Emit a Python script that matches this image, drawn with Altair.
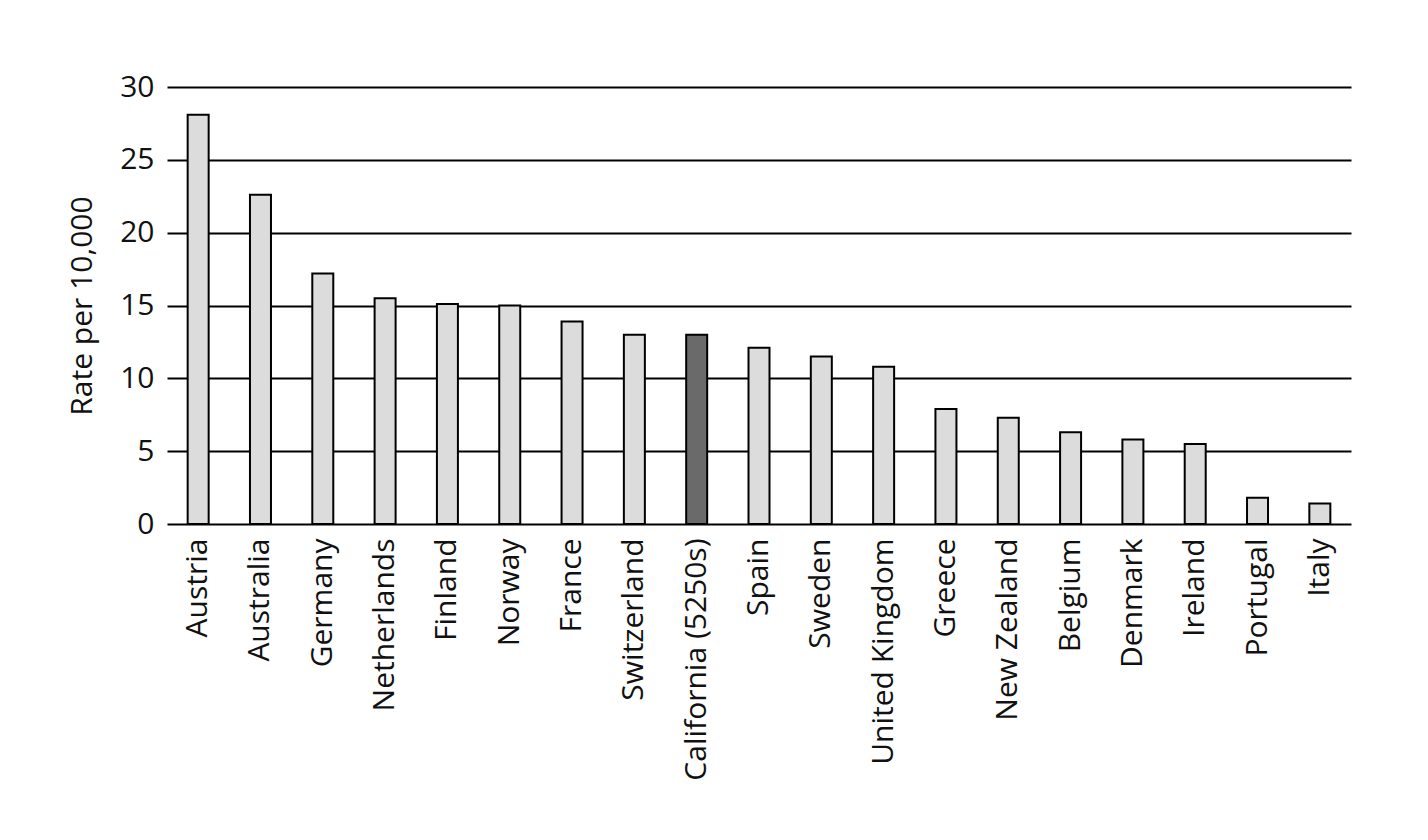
import altair as alt
import pandas as pd

countries = ["Austria", "Australia", "Germany", "Netherlands", "Finland", "Norway",
             "France", "Switzerland", "California (5250s)", "Spain", "Sweden",
             "United Kingdom", "Greece", "New Zealand", "Belgium", "Denmark",
             "Ireland", "Portugal", "Italy"]
rates = [28.1, 22.6, 17.2, 15.5, 15.1, 15.0, 13.9, 13.0, 13.0, 12.1, 11.5,
         10.8, 7.9, 7.3, 6.3, 5.8, 5.5, 1.8, 1.4]
highlight = ["California (5250s)"]

df = pd.DataFrame({
    "country": countries,
    "rate": rates,
    "group": ["hl" if c in highlight else "base" for c in countries],
})

FONT = "Open Sans"
FS = 30

chart = alt.Chart(df).mark_bar(size=21, stroke="black", strokeWidth=2).encode(
    x=alt.X("country:N", sort=countries, title=None,
            scale=alt.Scale(paddingOuter=0.0, paddingInner=0.0),
            axis=alt.Axis(labelAngle=-90, labelAlign="right", labelBaseline="middle",
                          labelFontSize=FS, labelFont=FONT, labelColor="#111",
                          labelPadding=14, labelLimit=0, ticks=False, domain=False)),
    y=alt.Y("rate:Q", title="Rate per 10,000",
            scale=alt.Scale(domain=[0, 30], nice=False),
            axis=alt.Axis(values=[0, 5, 10, 15, 20, 25, 30], grid=True,
                          gridColor="black", gridWidth=2, gridOpacity=1,
                          domain=False, ticks=False, labelFontSize=FS,
                          labelFont=FONT, labelColor="#111", labelPadding=13,
                          titleFont=FONT, titleFontSize=FS, titleFontWeight="normal",
                          titleColor="#111", titlePadding=22)),
    color=alt.Color("group:N", scale=alt.Scale(domain=["base", "hl"],
                                               range=["#dcdcdc", "#6a6a6a"]),
                    legend=None),
).properties(
    width=1184, height=437,
    padding={"left": 59, "top": 64, "right": 10, "bottom": 5},
).configure(background="white").configure_view(stroke=None, strokeWidth=0)

chart.save("out.html", embed_options={"renderer": "svg", "actions": False})
